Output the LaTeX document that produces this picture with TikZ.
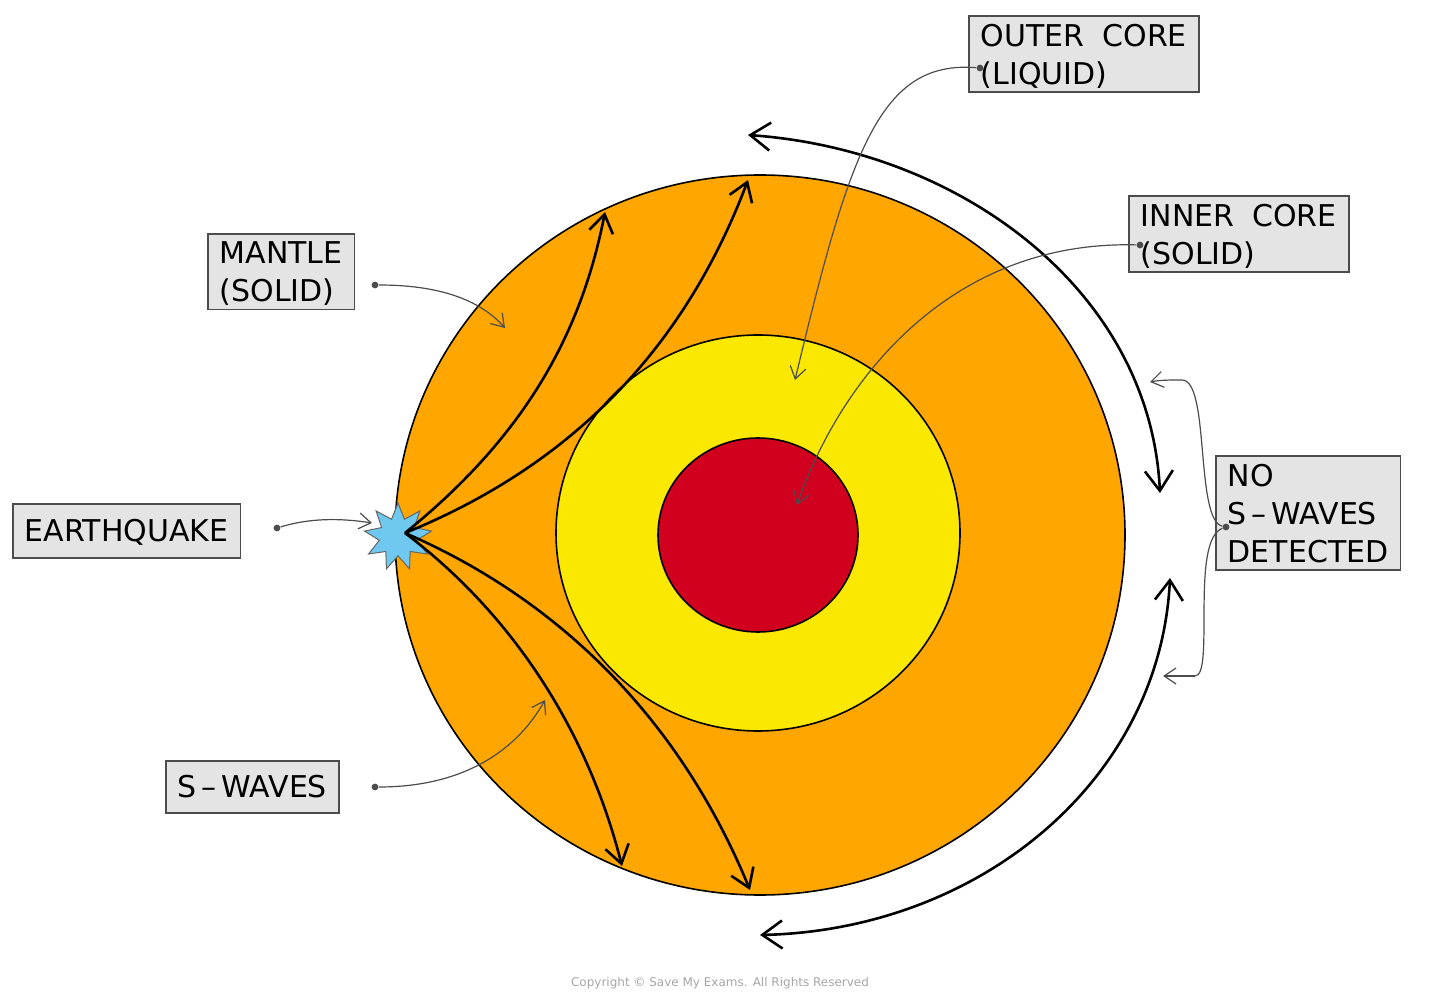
\documentclass[tikz,border=0pt]{standalone}
\usepackage{fontspec}
\setmainfont{DejaVu Sans}
\usetikzlibrary{arrows.meta,shapes.misc,shapes.geometric}
\definecolor{mantle}{RGB}{255,166,0}
\definecolor{outer}{RGB}{250,232,0}
\definecolor{inner}{RGB}{208,0,30}
\definecolor{quake}{RGB}{110,200,240}
\definecolor{tagfill}{RGB}{228,228,228}
\tikzset{
 tag/.style={draw=black!70,fill=tagfill,line width=0.8pt,align=left,font=\fontsize{15}{19}\selectfont,inner xsep=6pt,inner ysep=4pt,anchor=north west,text depth=0pt},
 lead/.style={black!70,line width=0.6pt,-{Straight Barb[length=6pt,width=8pt]}},
 wave/.style={black,line width=1.3pt,-{Straight Barb[length=9pt,width=12pt]}},
 big/.style={black,line width=1.3pt,{Straight Barb[length=10pt,width=14pt]}-{Straight Barb[length=10pt,width=14pt]}},
 dot/.style={circle,fill=black!70,inner sep=1.2pt}
}
\begin{document}
\begin{tikzpicture}[x=0.5pt,y=-0.5pt]
\useasboundingbox (0,0) rectangle (1440,999);
% earth
\filldraw[fill=mantle,draw=black,line width=0.8pt] (760,535) ellipse (365 and 360);
\filldraw[fill=outer,draw=black,line width=0.8pt] (758,533) ellipse (202 and 198);
\filldraw[fill=inner,draw=black,line width=0.8pt] (758,535) ellipse (100 and 97);
% quake
\node[star,star points=9,star point ratio=1.8,minimum size=34pt,fill=quake,draw=black!60,line width=0.5pt,inner sep=0pt] (eq) at (398,537) {};
\coordinate (q) at (405,533);
% waves
\coordinate (w1) at (605,212);
\coordinate (w2) at (748,180);
\coordinate (w3) at (622,866);
\coordinate (w4) at (750,890);
\draw[wave] (q) .. controls (520,440) and (580,340) .. (w1);
\draw[wave] (q) .. controls (560,470) and (680,360) .. (w2);
\draw[wave] (q) .. controls (520,620) and (590,740) .. (w3);
\draw[wave] (q) .. controls (560,600) and (680,720) .. (w4);
% big arrows
\coordinate (t1) at (748,135); \coordinate (t2) at (1160,493);
\coordinate (b1) at (760,935); \coordinate (b2) at (1170,578);
\draw[big] (t1) .. controls (960,150) and (1150,290) .. (t2);
\draw[big] (b1) .. controls (980,930) and (1160,780) .. (b2);
% labels
\node[tag] (oc) at (968,15) {OUTER\hspace{0.6em}CORE\\(LIQUID)};
\node[tag] (ic) at (1128,195) {INNER\hspace{0.6em}CORE\\(SOLID)};
\node[tag] (ma) at (207,233) {MANTLE\\(SOLID)};
\node[tag,minimum height=27pt] (ea) at (12,503) {EARTHQUAKE};
\node[tag,minimum height=26pt] (sw) at (165,760) {S\,–\,WAVES};
\node[tag] (no) at (1215,455) {NO\\S\,–\,WAVES\\DETECTED};
% leaders
\node[dot] (d1) at (980,68) {};
\node[dot] (d2) at (1140,245) {};
\node[dot] (d3) at (375,285) {};
\node[dot] (d4) at (277,528) {};
\node[dot] (d5) at (375,787) {};
\node[dot] (d6) at (1226,527) {};
\coordinate (a1) at (795,380);
\coordinate (a2) at (797,505);
\coordinate (a3) at (505,328);
\coordinate (a4) at (372,523);
\coordinate (a5) at (545,700);
\coordinate (a6) at (1150,382);
\coordinate (a7) at (1163,676);
\draw[lead] (d1) .. controls (880,60) and (850,150) .. (a1);
\draw[lead] (d2) .. controls (950,240) and (840,380) .. (a2);
\draw[lead] (d3) .. controls (440,285) and (480,300) .. (a3);
\draw[lead] (d4) .. controls (310,518) and (340,518) .. (a4);
\draw[lead] (d5) .. controls (470,787) and (520,745) .. (a5);
\draw[black!70,line width=0.6pt] (d6) .. controls (1195,520) and (1210,380) .. (1182,380);
\draw[lead] (1182,380) .. controls (1170,380) and (1160,380) .. (a6);
\draw[black!70,line width=0.6pt] (d6) .. controls (1190,540) and (1215,676) .. (1195,676);
\draw[lead] (1195,676) .. controls (1180,676) and (1170,676) .. (a7);
\node[font=\fontsize{6}{7}\selectfont,text=black!35] (cp) at (720,983) {Copyright © Save My Exams. All Rights Reserved};
\end{tikzpicture}
\end{document}
